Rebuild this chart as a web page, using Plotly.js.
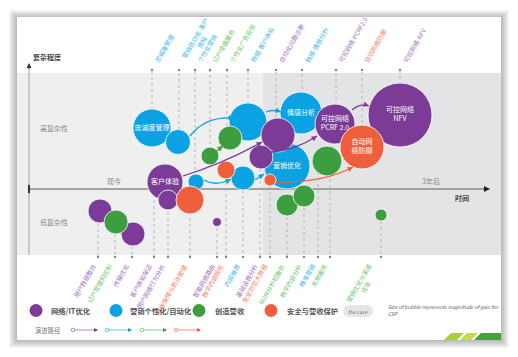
<!DOCTYPE html>
<html><head><meta charset="utf-8">
<script src="https://cdn.plot.ly/plotly-3.0.1.min.js"></script>
<style>html,body{margin:0;padding:0;background:#fff}#chart{width:518px;height:357px}</style>
</head><body><div id="chart"></div>
<script>
// ---- categories / legend ----
const categories = ["网络/IT优化", "营销个性化/自动化", "创造营收", "安全与营收保护"];
const catColors = ["#7b3b97", "#0aa2e2", "#3d9e3f", "#ef5f3e"];
const tagColors = ["#a070bd", "#3fb6ec", "#72c272", "#f27d60"];

// ---- bubbles: x = time position, y = complexity position, gain = bubble size ----
// 网络/IT优化
const netX = [165, 168, 100, 133, 217, 278, 261, 335, 400];
const netY = [182, 200, 211, 234, 222, 135, 157, 124, 115];
const netGain = [36, 20, 24, 24, 9, 34, 24, 40, 64];
const netName = ["客户体验", "", "", "", "", "", "", "可控网络<br>PCRF 2.0", "可控网络<br>NFV"];
const netTag = ["客户体验保证", "用户网络行为分析", "用户数据整合", "传输优化", "智能网络路由", "自动化问题诊断", "基础设施分析", "可控网络-PCRF2.0", "可控网络-NFV"];
const netSide = ["b", "b", "b", "b", "b", "t", "b", "t", "t"];
const netTagX = [154, 168, 98, 132, 217, 276, 260, 336, 400];

// 营销个性化/自动化
const mktX = [152, 178, 196, 243, 248, 287, 301];
const mktY = [128, 142, 182, 178, 122, 166, 113];
const mktGain = [38, 25, 16, 24, 38, 46, 42];
const mktName = ["忠诚度管理", "", "", "", "", "营销优化", "情感分析"];
const mktTag = ["忠诚度管理", "营销自动化-客户<br>旅程", "个性化营销", "内容推荐", "数据-客户体验", "精准营销", "数据-情感分析"];
const mktSide = ["t", "t", "t", "b", "t", "b", "t"];
const mktTagX = [152, 179, 195, 243, 248, 318, 302];

// 创造营收
const revX = [230, 210, 116, 327, 287, 304, 381];
const revY = [138, 156, 222, 161, 205, 196, 215];
const revGain = [24, 18, 24, 30, 22, 22, 12];
const revName = ["", "", "", "", "", "", ""];
const revTag = ["个性化广告投放", "订户增值服务", "订户管理和控制", "本地服务", "M2M分析和服务", "数字内容分析", "营销优化与渠道<br>成本"];
const revSide = ["t", "t", "b", "b", "b", "b", "b"];
const revTagX = [227, 210, 115, 330, 287, 304, 381];

// 安全与营收保护
const secX = [190, 226, 270, 362];
const secY = [200, 170, 180, 147];
const secGain = [28, 18, 12, 44];
const secName = ["", "", "", "自动网<br>络防御"];
const secTag = ["营收保障与欺诈管理", "数字内容版权", "安全防范大数据", "自动网络防御"];
const secSide = ["b", "b", "b", "t"];
const secTagX = [190, 226, 270, 362];

// evolution paths (curves between bubbles): start, control, end
const pathCat = [1, 0, 0, 0, 1, 1, 2, 3, 1];
const pathX0 = [190, 183, 271, 352, 204, 266, 216, 277, 255];
const pathY0 = [136, 176, 152, 110, 180, 112, 152, 182, 180];
const pathCX = [205, 225, 296, 360, 216, 272, 219, 323, 258];
const pathCY = [116, 163, 150, 103, 187, 109, 149, 183, 178];
const pathX1 = [234, 262, 317, 369, 231, 281, 223, 353, 264];
const pathY1 = [118, 142, 136, 106, 179, 112, 146, 167, 174];

const groups = [
  {x: netX, y: netY, g: netGain, n: netName, t: netTag, s: netSide, tx: netTagX, c: 0},
  {x: mktX, y: mktY, g: mktGain, n: mktName, t: mktTag, s: mktSide, tx: mktTagX, c: 1},
  {x: revX, y: revY, g: revGain, n: revName, t: revTag, s: revSide, tx: revTagX, c: 2},
  {x: secX, y: secY, g: secGain, n: secName, t: secTag, s: secSide, tx: secTagX, c: 3}
];
const drawOrder = [1, 0, 3, 2];

const FONT = "Noto Sans CJK SC, Noto Sans, sans-serif";
const TOPY = 70, BOTY = 257;
const shapes = [];
const annotations = [];

// card shadow + card
for (let i = 8; i >= 1; i--) {
  shapes.push({type: "rect", xref: "x", yref: "y", x0: 17 - i, x1: 501 + i, y0: 17 - i + 1, y1: 340 + i,
    line: {width: 0}, fillcolor: "rgba(0,0,0,0.035)", layer: "below"});
}
shapes.push({type: "rect", xref: "x", yref: "y", x0: 17, x1: 501, y0: 17, y1: 340, line: {width: 0}, fillcolor: "#ffffff", layer: "below"});
// grey bands
shapes.push({type: "rect", xref: "x", yref: "y", x0: 17, x1: 263, y0: 73, y1: 255, line: {width: 0}, fillcolor: "#efeff0", layer: "below"});
shapes.push({type: "rect", xref: "x", yref: "y", x0: 263, x1: 501, y0: 73, y1: 255, line: {width: 0}, fillcolor: "#e4e4e6", layer: "below"});
// axes
shapes.push({type: "line", xref: "x", yref: "y", x0: 29, x1: 29, y0: 255, y1: 66, line: {color: "#a0a0a0", width: 1}, layer: "below"});
shapes.push({type: "line", xref: "x", yref: "y", x0: 29, x1: 486, y0: 189, y1: 189, line: {color: "#8a8a8a", width: 1.3}, layer: "below"});
shapes.push({type: "line", xref: "x", yref: "y", x0: 29, x1: 29, y0: 185, y1: 193, line: {color: "#333", width: 2}, layer: "below"});
annotations.push({x: 29, y: 63, ax: 29, ay: 70, xref: "x", yref: "y", axref: "x", ayref: "y", text: "", showarrow: true, arrowhead: 2, arrowsize: 1, arrowwidth: 1, arrowcolor: "#333"});
annotations.push({x: 490, y: 189, ax: 482, ay: 189, xref: "x", yref: "y", axref: "x", ayref: "y", text: "", showarrow: true, arrowhead: 2, arrowsize: 1, arrowwidth: 1.2, arrowcolor: "#222"});

// dotted connector lines + tags
const dotX = [], dotY = [];
groups.forEach(gr => {
  gr.x.forEach((xv, i) => {
    const ey = gr.s[i] === "t" ? TOPY : BOTY;
    const lx = gr.tx[i];
    shapes.push({type: "line", xref: "x", yref: "y", x0: lx, x1: lx, y0: gr.y[i], y1: ey,
      line: {color: "#a8a8a8", width: 0.8, dash: "dot"}, layer: "below"});
    dotX.push(lx); dotY.push(ey);
    annotations.push({x: lx + (gr.s[i] === "t" ? -2 : 2), y: gr.s[i] === "t" ? ey - 3 : ey + 3, xref: "x", yref: "y",
      text: gr.t[i], showarrow: false, textangle: -60,
      xanchor: gr.s[i] === "t" ? "left" : "right", yanchor: gr.s[i] === "t" ? "bottom" : "top",
      font: {family: FONT, size: 6.2, color: tagColors[gr.c]}});
  });
});

// evolution curves
pathCat.forEach((c, i) => {
  shapes.push({type: "path", xref: "x", yref: "y",
    path: `M${pathX0[i]},${pathY0[i]} Q${pathCX[i]},${pathCY[i]} ${pathX1[i]},${pathY1[i]}`,
    line: {color: catColors[c], width: 1.3}, layer: "above"});
  const dx = pathX1[i] - pathCX[i], dy = pathY1[i] - pathCY[i];
  const L = Math.hypot(dx, dy) || 1;
  annotations.push({x: pathX1[i], y: pathY1[i], ax: pathX1[i] - dx / L * 4, ay: pathY1[i] - dy / L * 4,
    xref: "x", yref: "y", axref: "x", ayref: "y", text: "", showarrow: true,
    arrowhead: 2, arrowsize: 0.9, arrowwidth: 1.2, arrowcolor: catColors[c]});
});

// axis texts
const txt = (x, y, t, opt) => annotations.push(Object.assign({x, y, xref: "x", yref: "y", text: t, showarrow: false,
  font: {family: FONT, size: 7, color: "#8a8a8a"}}, opt || {}));
txt(31, 57, "<b>复杂程度</b>", {xanchor: "left", font: {family: FONT, size: 7, color: "#444"}});
txt(38, 128, "高复杂性", {xanchor: "left"});
txt(38, 222, "低复杂性", {xanchor: "left"});
txt(114, 181, "现今");
txt(431, 181, "3年后");
txt(462, 198, "<b>时间</b>", {font: {family: FONT, size: 7, color: "#444"}});

// legend
const legDotX = [36, 116, 199, 271];
const legTextX = [49, 128, 213, 285];
categories.forEach((c, i) => {
  shapes.push({type: "circle", xref: "x", yref: "y", x0: legDotX[i] - 6.5, x1: legDotX[i] + 6.5, y0: 304, y1: 317,
    fillcolor: catColors[i], line: {width: 0}});
  txt(legTextX[i], 310.5, "<b>" + c + "</b>", {xanchor: "left", font: {family: FONT, size: 7.3, color: "#555"}});
});
// "the case" pill
shapes.push({type: "rect", xref: "x", yref: "y", x0: 349, x1: 367, y0: 305, y1: 317, fillcolor: "#e5e5e7", line: {width: 0}});
shapes.push({type: "circle", xref: "x", yref: "y", x0: 343, x1: 355, y0: 305, y1: 317, fillcolor: "#e5e5e7", line: {width: 0}});
shapes.push({type: "circle", xref: "x", yref: "y", x0: 361, x1: 373, y0: 305, y1: 317, fillcolor: "#e5e5e7", line: {width: 0}});
txt(358, 311, "<i>the case</i>", {font: {family: FONT, size: 5, color: "#666"}});
txt(386, 306.5, "<i>Size of bubble represents magnitude of gain for</i>", {xanchor: "left", font: {family: FONT, size: 5, color: "#555"}});
txt(386, 313, "<i>CSP</i>", {xanchor: "left", font: {family: FONT, size: 5, color: "#555"}});
txt(33, 330, "演进路径", {xanchor: "left", font: {family: FONT, size: 6.3, color: "#777"}});
const evoX0 = [73, 107, 142, 176];
catColors.forEach((col, i) => {
  shapes.push({type: "line", xref: "x", yref: "y", x0: evoX0[i], x1: evoX0[i] + 24, y0: 330, y1: 330, line: {color: tagColors[i], width: 0.8}});
  shapes.push({type: "circle", xref: "x", yref: "y", x0: evoX0[i] - 1.8, x1: evoX0[i] + 1.8, y0: 328.2, y1: 331.8, fillcolor: "#fff", line: {color: tagColors[i], width: 0.8}});
  annotations.push({x: evoX0[i] + 25, y: 330, ax: evoX0[i] + 21, ay: 330, xref: "x", yref: "y", axref: "x", ayref: "y", text: "", showarrow: true,
    arrowhead: 2, arrowsize: 0.8, arrowwidth: 1, arrowcolor: catColors[i]});
});
// corner decoration
shapes.push({type: "path", xref: "x", yref: "y", path: "M444,340 L451,333 L464,333 L457,340 Z", fillcolor: "#a9d12b", line: {width: 0}});
shapes.push({type: "path", xref: "x", yref: "y", path: "M460,340 L467,333 L478,333 L471,340 Z", fillcolor: "#c6dd3a", line: {width: 0}});
shapes.push({type: "path", xref: "x", yref: "y", path: "M474,340 L481,333 L501,333 L501,340 Z", fillcolor: "#3fa63a", line: {width: 0}});

// traces
const traces = [];
traces.push({x: dotX, y: dotY, mode: "markers", type: "scatter", hoverinfo: "skip",
  marker: {size: 2.5, color: "#888"}});
drawOrder.forEach(k => {
  const gr = groups[k];
  traces.push({
    x: gr.x, y: gr.y, text: gr.n, mode: "markers+text", type: "scatter", name: categories[gr.c],
    textposition: "middle center",
    textfont: {family: FONT, size: 7, color: "#ffffff"},
    marker: {size: gr.g, sizemode: "diameter", color: catColors[gr.c], opacity: 1, line: {color: "#ffffff", width: 0.8}},
    cliponaxis: false
  });
});

const layout = {
  width: 518, height: 357, margin: {l: 0, r: 0, t: 0, b: 0},
  paper_bgcolor: "#ffffff", plot_bgcolor: "#ffffff", showlegend: false,
  xaxis: {range: [0, 518], visible: false, fixedrange: true},
  yaxis: {range: [357, 0], visible: false, fixedrange: true},
  shapes, annotations,
  font: {family: FONT}
};
Plotly.newPlot("chart", traces, layout, {displayModeBar: false, staticPlot: true});
</script></body></html>
